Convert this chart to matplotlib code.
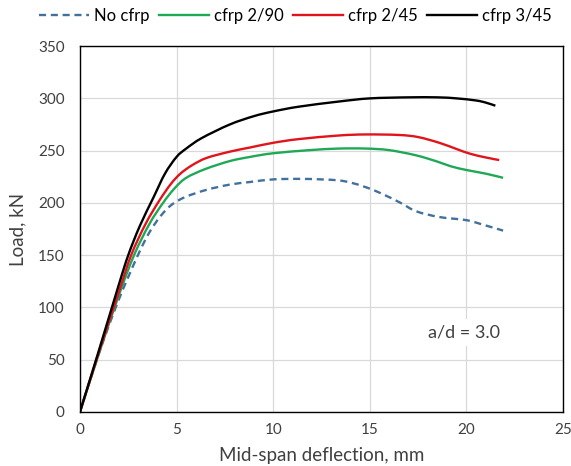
import matplotlib

matplotlib.use("Agg")
import matplotlib.pyplot as plt
from matplotlib.lines import Line2D
from matplotlib.patches import PathPatch
from matplotlib.path import Path

plt.rcParams["font.family"] = ["Lato", "DejaVu Sans"]

# mid-span deflection (mm) vs load (kN)
no_cfrp_x = [0, 1, 2, 3.0, 3.6, 4.2, 4.8, 5.5, 6.55, 7.75, 8.8, 10, 11.3, 12.5, 13.4, 14, 14.8, 15.6, 16.6, 17.4, 18.6, 20, 20.8, 21.9]
no_cfrp_y = [0, 57, 107, 150, 172, 188, 199, 206, 212.5, 217.5, 220, 222.5, 223, 222.5, 221.5, 219.5, 215, 209, 200, 192, 186.5, 183.5, 179.5, 173.5]

cfrp_290_x = [0, 1, 2, 2.8, 3.6, 4.3, 4.9, 5.5, 6.5, 7.75, 8.8, 10, 11.9, 13.4, 14.8, 16, 17.4, 18.5, 19.2, 20, 21, 21.9]
cfrp_290_y = [0, 57, 111, 150, 180, 200, 214, 224, 232.5, 240, 244, 247.5, 250.5, 252, 252, 250.5, 245.5, 239.5, 235, 231.5, 228, 224]

cfrp_245_x = [0, 1, 2, 2.65, 3.4, 4.1, 4.7, 5.2, 5.8, 6.55, 7.75, 8.8, 10, 11.3, 13.4, 14.8, 16.5, 17.5, 18.6, 19.5, 20.2, 21, 21.7]
cfrp_245_y = [0, 58, 114, 150, 180, 202, 218, 228, 236, 243, 249, 253, 257.5, 261, 264.5, 265.5, 265, 263, 257.5, 251.5, 247, 243.5, 241]

cfrp_345_x = [0, 1, 2, 2.5, 3.1, 3.8, 4.4, 5, 5.5, 6.3, 7.75, 9, 10, 11.3, 13.4, 15, 17, 18.5, 19.5, 20.5, 21, 21.5]
cfrp_345_y = [0, 60, 121, 150, 178, 205, 228, 244, 252, 262, 275, 283, 287.5, 292, 297, 300, 301, 301, 300, 298, 296, 293]

series = [
    ("No cfrp", no_cfrp_x, no_cfrp_y, "#41719c", (0, (3, 2))),
    ("cfrp 2/90", cfrp_290_x, cfrp_290_y, "#1fa855", "-"),
    ("cfrp 2/45", cfrp_245_x, cfrp_245_y, "#e0141a", "-"),
    ("cfrp 3/45", cfrp_345_x, cfrp_345_y, "black", "-"),
]


def smooth_path(xs, ys):
    # excel-style smoothed line: cubic bezier through every point
    pts = list(zip(xs, ys))
    verts = [pts[0]]
    codes = [Path.MOVETO]
    n = len(pts)
    for i in range(n - 1):
        p0 = pts[max(i - 1, 0)]
        p1 = pts[i]
        p2 = pts[i + 1]
        p3 = pts[min(i + 2, n - 1)]
        c1 = (p1[0] + (p2[0] - p0[0]) / 6, p1[1] + (p2[1] - p0[1]) / 6)
        c2 = (p2[0] - (p3[0] - p1[0]) / 6, p2[1] - (p3[1] - p1[1]) / 6)
        verts += [c1, c2, p2]
        codes += [Path.CURVE4] * 3
    return Path(verts, codes)


fig = plt.figure(figsize=(5.71, 4.66), dpi=100)
ax = fig.add_axes([0.140, 0.116, 0.846, 0.785])

handles = []
for name, xs, ys, col, ls in series:
    ax.add_patch(PathPatch(smooth_path(xs, ys), fill=False, edgecolor=col, lw=1.7, linestyle=ls,
                           capstyle="butt", joinstyle="round"))
    handles.append(Line2D([], [], color=col, lw=1.7, ls=ls, label=name))

ax.set_xlim(0, 25)
ax.set_ylim(0, 350)
ax.set_xticks(range(0, 26, 5))
ax.set_yticks(range(0, 351, 50))
ax.grid(True, color="#d9d9d9", lw=0.9)
ax.set_axisbelow(True)
for s in ax.spines.values():
    s.set_color("black")
    s.set_linewidth(1.0)
ax.tick_params(length=0, labelsize=11, colors="#404040")
ax.tick_params(axis="x", pad=8)
ax.tick_params(axis="y", pad=11)

ax.set_xlabel("Mid-span deflection, mm", fontsize=13.5, color="#404040", va="center")
ax.set_ylabel("Load, kN", fontsize=13.5, color="#404040", va="center")
ax.xaxis.set_label_coords(0.5, -0.118)
ax.yaxis.set_label_coords(-0.128, 0.5)

ax.text(19.9, 76, "a/d = 3.0", fontsize=13, color="#404040", ha="center", va="center",
        bbox=dict(facecolor="white", edgecolor="none", pad=4))

fig.legend(handles=handles, loc="center", bbox_to_anchor=(0.517, 0.966), ncol=4, frameon=False,
           fontsize=12, handlelength=3.0, columnspacing=0.55, handletextpad=0.3)

fig.savefig("out.png", dpi=100)
